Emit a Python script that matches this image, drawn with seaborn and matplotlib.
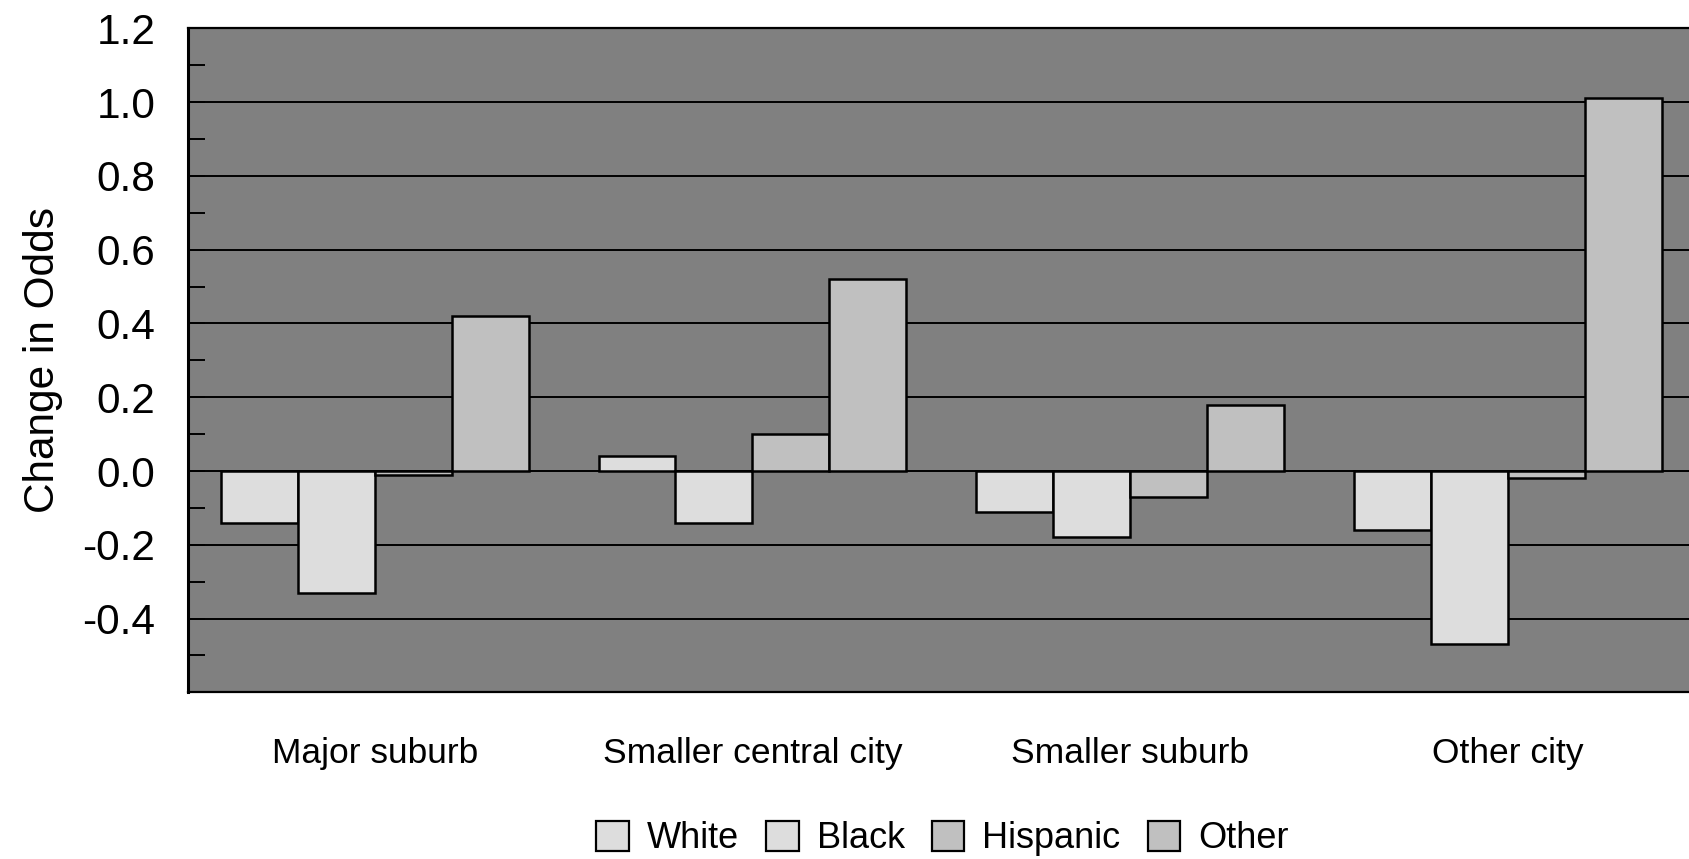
import pandas as pd
import numpy as np
import matplotlib
matplotlib.use('Agg')
import matplotlib.pyplot as plt
import seaborn as sns
from matplotlib.ticker import MultipleLocator

# Data
places = ['Major suburb', 'Smaller central city', 'Smaller suburb', 'Other city']
groups = ['White', 'Black', 'Hispanic', 'Other']
white = [-0.14, 0.04, -0.11, -0.16]
black = [-0.33, -0.14, -0.18, -0.47]
hispanic = [-0.01, 0.10, -0.07, -0.02]
other = [0.42, 0.52, 0.18, 1.01]
bar_colors = ['#dddddd', '#dddddd', '#c0c0c0', '#c0c0c0']

# long-form table for seaborn
rows = []
for name, vals in zip(groups, [white, black, hispanic, other]):
    for place, v in zip(places, vals):
        rows.append({'place': place, 'group': name, 'odds': v})
df = pd.DataFrame(rows)

sns.set_style('white')
plt.rcParams['font.family'] = ['Liberation Sans', 'DejaVu Sans']
plt.rcParams['text.color'] = 'black'
plt.rcParams['xtick.color'] = 'black'
plt.rcParams['ytick.color'] = 'black'
plt.rcParams['axes.labelcolor'] = 'black'

fig = plt.figure(figsize=(16.89, 8.59), dpi=100)
ax = fig.add_axes([0.1116, 0.194, 0.893, 0.773])
ax.set_facecolor('#808080')

sns.barplot(data=df, x='place', y='odds', hue='group', order=places,
            hue_order=groups, palette=bar_colors, width=0.815,
            edgecolor='black', linewidth=1.8, ax=ax, zorder=3, legend=False)

ax.set_xlim(-0.493, 3.5)
ax.set_ylim(-0.6, 1.2)
ax.set_yticks(np.arange(-0.4, 1.21, 0.2))
ax.set_yticklabels([f'{v:.1f}' for v in np.arange(-0.4, 1.21, 0.2)])
ax.yaxis.set_minor_locator(MultipleLocator(0.1))
ax.grid(axis='y', which='major', color='black', linewidth=1.4, zorder=1)
ax.set_axisbelow(True)

ax.tick_params(axis='y', which='both', direction='in', length=12, width=1.4,
               color='black', labelsize=30.5, labelcolor='black', pad=24, left=True)
ax.tick_params(axis='x', length=0, labelsize=25.5, labelcolor='black', pad=32)
ax.set_xlabel('')
ax.set_ylabel('Change in Odds', fontsize=30.5, color='black', labelpad=14)

for side in ['left', 'right', 'top', 'bottom']:
    ax.spines[side].set_color('black')
    ax.spines[side].set_linewidth(1.6)
ax.spines['left'].set_linewidth(2.2)

# legend with square patches
handles = [plt.Rectangle((0, 0), 1, 1, facecolor=c, edgecolor='black', linewidth=1.6)
           for c in bar_colors]
fig.legend(handles, groups, loc='center', bbox_to_anchor=(0.558, 0.024), ncol=4,
           frameon=False, fontsize=26, handlelength=0.9, handleheight=0.9,
           handletextpad=0.5, columnspacing=0.75)

fig.savefig('out.png', dpi=100)
